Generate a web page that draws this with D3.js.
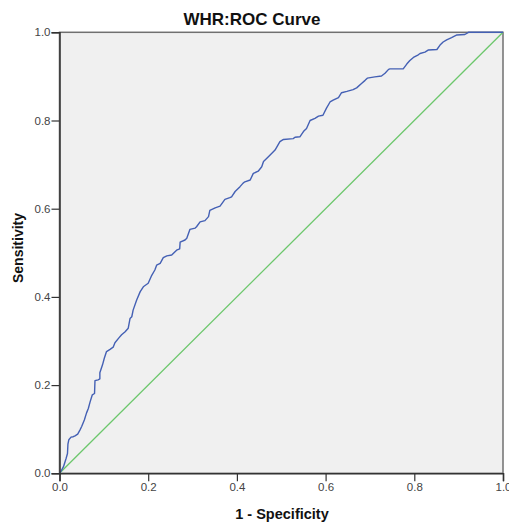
<!DOCTYPE html>
<html>
<head>
<meta charset="utf-8">
<script src="https://cdn.jsdelivr.net/npm/d3@7"></script>
<style>
  html, body { margin: 0; padding: 0; background: #ffffff; }
  svg { display: block; }
  text { font-family: "Liberation Sans", Arial, sans-serif; }
</style>
</head>
<body>
<div id="chart"></div>
<script>
// ---- data ----
const title = "WHR:ROC Curve";
const xLabel = "1 - Specificity";
const yLabel = "Sensitivity";
const tickValues = [0, 0.2, 0.4, 0.6, 0.8, 1.0];

// ROC curve (1 - specificity, sensitivity)
const fpr = [0,0.003,0.009,0.015,0.018,0.019,0.021,0.026,0.031,0.035,0.041,0.046,0.050,0.056,0.061,0.065,0.069,0.074,0.079,0.080,0.087,0.091,0.091,0.097,0.101,0.106,0.114,0.121,0.125,0.133,0.140,0.148,0.155,0.159,0.163,0.166,0.174,0.182,0.189,0.200,0.208,0.215,0.219,0.227,0.234,0.242,0.253,0.264,0.271,0.272,0.283,0.287,0.294,0.306,0.309,0.317,0.328,0.336,0.339,0.351,0.362,0.373,0.384,0.388,0.396,0.407,0.414,0.418,0.430,0.437,0.448,0.456,0.460,0.471,0.486,0.497,0.505,0.527,0.531,0.542,0.550,0.557,0.565,0.576,0.584,0.594,0.602,0.610,0.617,0.629,0.636,0.648,0.662,0.670,0.681,0.689,0.694,0.711,0.726,0.734,0.742,0.745,0.775,0.783,0.790,0.798,0.809,0.813,0.824,0.832,0.851,0.858,0.865,0.873,0.884,0.896,0.914,0.922,1.0];
const tpr = [0,0.004,0.015,0.034,0.045,0.066,0.076,0.082,0.083,0.085,0.089,0.098,0.106,0.121,0.137,0.147,0.162,0.178,0.181,0.210,0.212,0.214,0.228,0.246,0.261,0.276,0.281,0.286,0.296,0.306,0.314,0.321,0.329,0.351,0.355,0.370,0.393,0.412,0.423,0.431,0.449,0.461,0.472,0.476,0.489,0.493,0.495,0.506,0.509,0.524,0.529,0.533,0.553,0.556,0.559,0.570,0.573,0.582,0.596,0.602,0.606,0.621,0.625,0.627,0.639,0.650,0.658,0.661,0.665,0.680,0.685,0.695,0.707,0.718,0.733,0.752,0.757,0.759,0.762,0.763,0.775,0.782,0.800,0.805,0.810,0.812,0.828,0.842,0.846,0.852,0.863,0.866,0.870,0.874,0.884,0.891,0.896,0.899,0.901,0.907,0.916,0.917,0.917,0.928,0.936,0.943,0.949,0.952,0.955,0.960,0.961,0.971,0.978,0.983,0.988,0.994,0.995,1.0,1.0];

// reference (chance) line
const refX = [0, 1];
const refY = [0, 1];

// ---- layout ----
const W = 509, H = 524;
const margin = { top: 32.3, right: 6, bottom: 50.7, left: 59.5 };
const iw = W - margin.left - margin.right;
const ih = H - margin.top - margin.bottom;

const svg = d3.select("#chart").append("svg")
  .attr("width", W).attr("height", H);

const x = d3.scaleLinear().domain([0, 1]).range([margin.left, margin.left + iw]);
const y = d3.scaleLinear().domain([0, 1]).range([margin.top + ih, margin.top]);

// plot background
svg.append("rect")
  .attr("x", x(0)).attr("y", y(1))
  .attr("width", x(1) - x(0)).attr("height", y(0) - y(1))
  .attr("fill", "#f0f0f0")
  .attr("stroke", "#707070").attr("stroke-width", 1.5);

// reference line
const refData = refX.map((v, i) => [v, refY[i]]);
svg.append("path")
  .datum(refData)
  .attr("fill", "none")
  .attr("stroke", "#6cc76c")
  .attr("stroke-width", 1.3)
  .attr("d", d3.line().x(d => x(d[0])).y(d => y(d[1])));

// ROC curve
const rocData = fpr.map((v, i) => [v, tpr[i]]);
svg.append("path")
  .datum(rocData)
  .attr("fill", "none")
  .attr("stroke", "#4460b4")
  .attr("stroke-width", 1.4)
  .attr("stroke-linejoin", "round")
  .attr("d", d3.line().x(d => x(d[0])).y(d => y(d[1])));

// axes
const fmt = d3.format(".1f");
const xAxis = svg.append("g")
  .attr("transform", `translate(0,${y(0)})`)
  .call(d3.axisBottom(x).tickValues(tickValues).tickFormat(fmt).tickSize(8).tickPadding(2));
const yAxis = svg.append("g")
  .attr("transform", `translate(${x(0)},0)`)
  .call(d3.axisLeft(y).tickValues(tickValues).tickFormat(fmt).tickSize(8).tickPadding(1));

[xAxis, yAxis].forEach(g => {
  g.select(".domain").attr("stroke", "#333").attr("stroke-width", 1.5);
  g.selectAll(".tick line").attr("stroke", "#333").attr("stroke-width", 1.2);
  g.selectAll(".tick text")
    .attr("fill", "#444")
    .style("font-size", "11.5px")
    .style("font-family", "'Liberation Sans', Arial, sans-serif");
});

// title
svg.append("text")
  .attr("x", 252).attr("y", 25)
  .attr("text-anchor", "middle")
  .style("font-size", "17px").style("font-weight", "bold")
  .attr("fill", "#111")
  .text(title);

// x axis title
svg.append("text")
  .attr("x", 282).attr("y", 518.5)
  .attr("text-anchor", "middle")
  .style("font-size", "14.5px").style("font-weight", "bold")
  .attr("fill", "#111")
  .text(xLabel);

// y axis title
svg.append("text")
  .attr("transform", `translate(23,248) rotate(-90)`)
  .attr("text-anchor", "middle")
  .style("font-size", "14px").style("font-weight", "bold")
  .attr("fill", "#111")
  .text(yLabel);
</script>
</body>
</html>
